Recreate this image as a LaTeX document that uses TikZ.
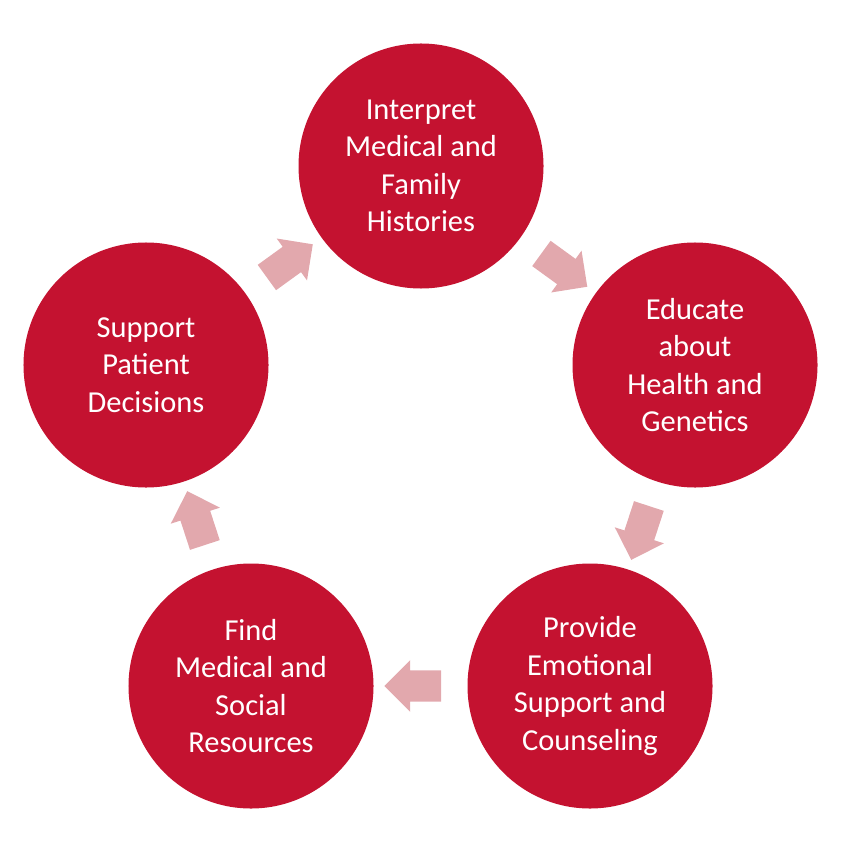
\documentclass[tikz,border=0pt]{standalone}
\usepackage{fontspec}
\setmainfont{Carlito}
\usetikzlibrary{shapes.arrows}
\definecolor{stepred}{RGB}{196,18,48}
\definecolor{arrowpink}{RGB}{226,168,173}

\begin{document}
\begin{tikzpicture}[x=0.03cm, y=-0.03cm]
    \tikzset{
        stage/.style={circle, fill=stepred, minimum size=7.35cm, inner sep=0pt,
            text=white, align=center, font=\fontsize{26}{32}\selectfont},
        turn/.style={single arrow, fill=arrowpink, minimum height=1.7cm,
            minimum width=1.55cm, single arrow head extend=0.2cm,
            inner sep=0.3cm, sloped, allow upside down}
    }
    \useasboundingbox (0,0) rectangle (840,851);

    \node[stage] (interpret) at (421,166) {Interpret\\Medical and\\Family\\Histories};
    \node[stage] (educate) at (695,365) {Educate\\about\\Health and\\Genetics};
    \node[stage] (provide) at (590,686) {Provide\\Emotional\\Support and\\Counseling};
    \node[stage] (find) at (251,686) {Find\\Medical and\\Social\\Resources};
    \node[stage] (support) at (146,365) {Support\\Patient\\Decisions};

    \path (interpret) -- node[turn] {} (educate);
    \path (educate) -- node[turn] {} (provide);
    \path (provide) -- node[turn] {} (find);
    \path (find) -- node[turn] {} (support);
    \path (support) -- node[turn] {} (interpret);
\end{tikzpicture}
\end{document}
